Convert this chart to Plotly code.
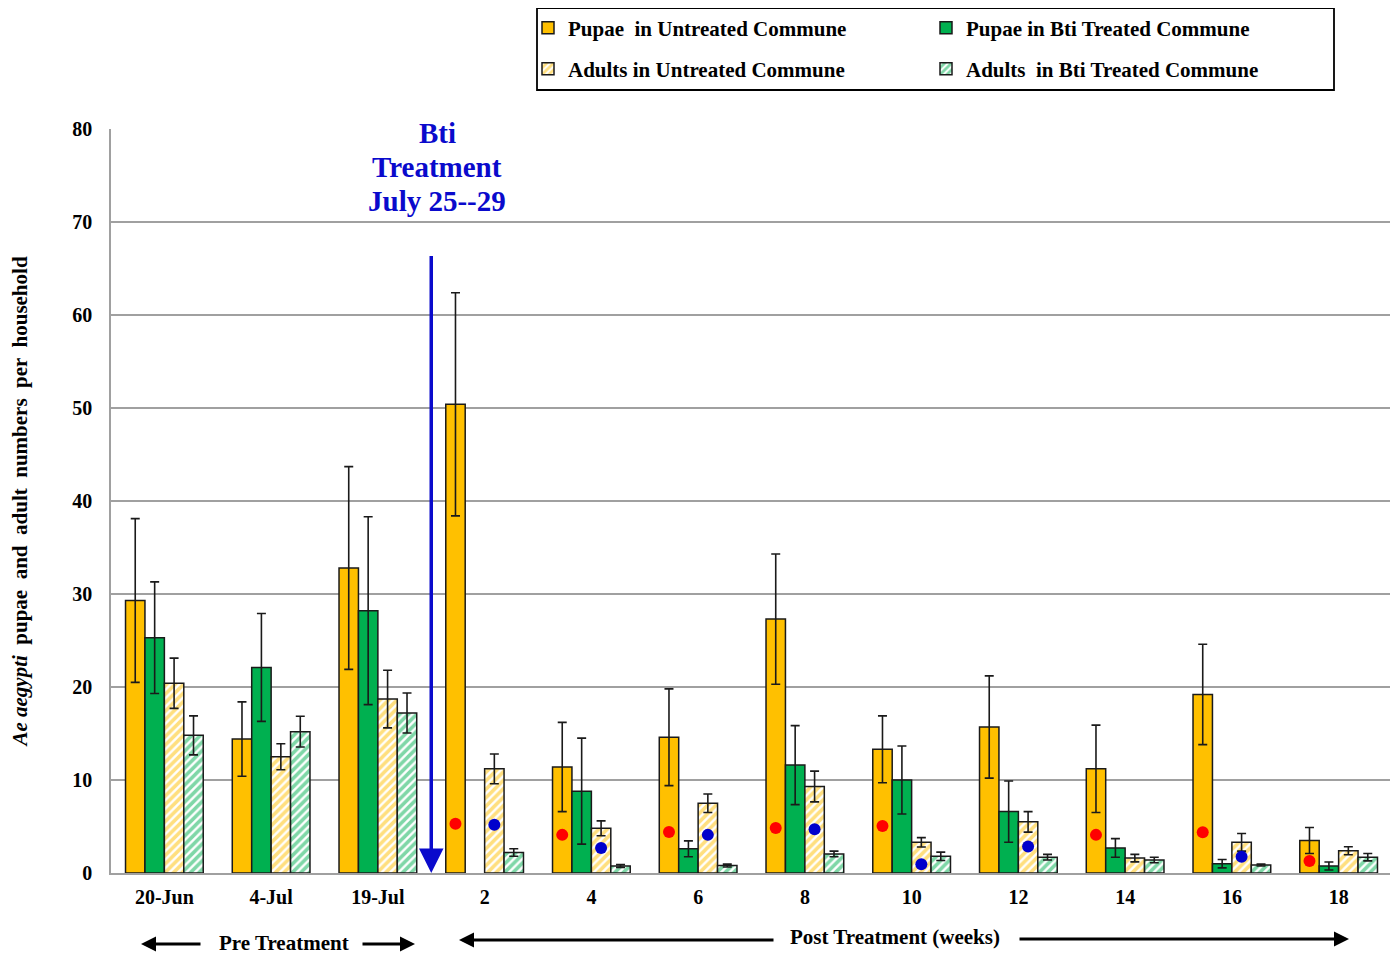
import plotly.graph_objects as go

categories = ["20-Jun", "4-Jul", "19-Jul", "2", "4", "6", "8", "10", "12", "14", "16", "18"]

pupae_untreated = [29.3, 14.4, 32.8, 50.4, 11.4, 14.6, 27.3, 13.3, 15.7, 11.2, 19.2, 3.5]
pupae_untreated_err = [8.8, 4.0, 10.9, 12.0, 4.8, 5.2, 7.0, 3.6, 5.5, 4.7, 5.4, 1.4]
pupae_treated = [25.3, 22.1, 28.2, None, 8.8, 2.6, 11.6, 10.0, 6.6, 2.7, 1.0, 0.75]
pupae_treated_err = [6.0, 5.8, 10.1, 0, 5.7, 0.85, 4.25, 3.65, 3.3, 1.0, 0.45, 0.43]
adults_untreated = [20.4, 12.5, 18.7, 11.2, 4.8, 7.5, 9.3, 3.3, 5.5, 1.6, 3.3, 2.4]
adults_untreated_err = [2.7, 1.4, 3.1, 1.6, 0.8, 1.0, 1.65, 0.5, 1.1, 0.4, 0.95, 0.43]
adults_treated = [14.8, 15.2, 17.2, 2.2, 0.75, 0.8, 2.05, 1.8, 1.7, 1.4, 0.85, 1.7]
adults_treated_err = [2.1, 1.65, 2.15, 0.4, 0.15, 0.15, 0.3, 0.45, 0.3, 0.3, 0.1, 0.4]

red_dots = [None, None, None, 5.3, 4.1, 4.4, 4.85, 5.05, None, 4.1, 4.37, 1.3]
blue_dots = [None, None, None, 5.2, 2.7, 4.1, 4.7, 0.95, 2.85, None, 1.75, None]

YELLOW = "#FFC000"
GREEN = "#00B050"
BLUE = "#0A0ACC"
FONT = "Liberation Serif"
BARGAP = 0.272
barw = (1 - BARGAP) / 4

FIG_W, FIG_H = 1398, 956
OFF = 8  # page body margin
# plot area in window pixels
PLOT_TOP, PLOT_BOTTOM = 129, 873
PLOT_LEFT, PLOT_RIGHT = 111, 1392
PLOT_H = PLOT_BOTTOM - PLOT_TOP
PLOT_W = PLOT_RIGHT - PLOT_LEFT

def py(ypix):
    return (PLOT_BOTTOM - ypix) / PLOT_H

def px(xpix):
    return (xpix - PLOT_LEFT) / PLOT_W

def cy(ypix):
    return 1 - (ypix - OFF) / FIG_H

def cx(xpix):
    return (xpix - OFF) / FIG_W

xpos = list(range(len(categories)))

fig = go.Figure()

def err(arr):
    return dict(type="data", array=arr, visible=True, color="#1a1a1a", thickness=1.6, width=4.5)

line = dict(color="#1a1a1a", width=1.5)

fig.add_trace(go.Bar(x=xpos, y=pupae_untreated, error_y=err(pupae_untreated_err),
                     name="Pupae  in Untreated Commune", legend="legend",
                     marker=dict(color=YELLOW, line=line)))
fig.add_trace(go.Bar(x=xpos, y=pupae_treated, error_y=err(pupae_treated_err),
                     name="Pupae in Bti Treated Commune", legend="legend",
                     marker=dict(color=GREEN, line=line)))
fig.add_trace(go.Bar(x=xpos, y=adults_untreated, error_y=err(adults_untreated_err),
                     name="Adults in Untreated Commune", legend="legend2",
                     marker=dict(color="white", line=line,
                                 pattern=dict(shape="/", fgcolor=YELLOW, bgcolor="white",
                                              size=6, solidity=0.6, fillmode="overlay"))))
fig.add_trace(go.Bar(x=xpos, y=adults_treated, error_y=err(adults_treated_err),
                     name="Adults  in Bti Treated Commune", legend="legend2",
                     marker=dict(color="white", line=line,
                                 pattern=dict(shape="/", fgcolor=GREEN, bgcolor="white",
                                              size=6, solidity=0.6, fillmode="overlay"))))

fig.add_trace(go.Scatter(x=[i - 1.5 * barw for i in xpos], y=red_dots, mode="markers",
                         marker=dict(color="#FF0000", size=12), showlegend=False))
fig.add_trace(go.Scatter(x=[i + 0.5 * barw for i in xpos], y=blue_dots, mode="markers",
                         marker=dict(color="#0000CC", size=12), showlegend=False))

tickfont = dict(family=FONT, size=20, color="black", weight="bold")
labelfont = dict(family=FONT, size=21, color="black", weight="bold")
legfont = dict(family=FONT, size=21, color="black", weight="bold")

leg_common = dict(orientation="h", xanchor="left", yanchor="middle",
                  xref="container", yref="container", x=cx(528),
                  borderwidth=0, bgcolor="rgba(0,0,0,0)", font=legfont,
                  entrywidth=353, itemwidth=30)

fig.update_layout(
    width=FIG_W, height=FIG_H,
    margin=dict(l=PLOT_LEFT - OFF, r=FIG_W - (PLOT_RIGHT - OFF), t=PLOT_TOP - OFF,
                b=FIG_H - (PLOT_BOTTOM - OFF)),
    paper_bgcolor="white", plot_bgcolor="white",
    barmode="group", bargap=BARGAP, bargroupgap=0,
    font=dict(family=FONT, color="black"),
    legend=dict(y=cy(28), **leg_common),
    legend2=dict(y=cy(69), **leg_common),
    xaxis=dict(tickmode="array", tickvals=xpos, ticktext=categories,
               range=[-0.5, len(categories) - 0.5], showgrid=False,
               showline=True, linecolor="#a0a0a0", linewidth=1.5,
               ticks="", tickfont=tickfont, ticklabelstandoff=5, zeroline=False),
    yaxis=dict(range=[0, 80], dtick=10, showgrid=True, gridcolor="#a0a0a0", gridwidth=1.5,
               showline=True, linecolor="#a0a0a0", linewidth=1.5, zeroline=False,
               ticks="", tickfont=tickfont, ticklabelstandoff=13,
               title=dict(text="<i>Ae aegypti</i>&nbsp; pupae &nbsp;and &nbsp;adult &nbsp;numbers &nbsp;per &nbsp;household",
                          font=dict(family=FONT, size=21, color="black", weight="bold"),
                          standoff=39)),
)

# legend frame
fig.add_shape(type="rect", xref="paper", yref="paper", x0=px(537), x1=px(1334), y0=py(90), y1=py(8),
              line=dict(color="black", width=1.8), fillcolor="rgba(0,0,0,0)", layer="above")

# Bti treatment arrow and label
fig.add_annotation(x=2.5, y=0, ax=2.5, ay=66.5, xref="x", yref="y", axref="x", ayref="y",
                   text="", showarrow=True, arrowhead=2, arrowsize=1.4, arrowwidth=3.5,
                   arrowcolor=BLUE)
for txt, ypix in [("Bti", 133), ("Treatment", 167), ("July 25--29", 201)]:
    fig.add_annotation(x=px(437), y=py(ypix), xref="paper", yref="paper", text=txt,
                       showarrow=False, font=dict(family=FONT, size=29, color=BLUE, weight="bold"),
                       align="center", xanchor="center", yanchor="middle")

# Bottom period arrows and labels
def harrow_px(head, tail, ypix):
    fig.add_annotation(x=px(head), y=py(ypix), ax=tail - head, ay=0,
                       xref="paper", yref="paper", axref="pixel", ayref="pixel",
                       text="", showarrow=True, arrowhead=2, arrowsize=1.0, arrowwidth=3,
                       arrowcolor="black")

harrow_px(141, 202, 944)
harrow_px(415, 361, 944)
harrow_px(459, 775, 940)
harrow_px(1349, 1018, 939)

fig.add_annotation(x=px(284), y=py(943), xref="paper", yref="paper", text="Pre Treatment",
                   showarrow=False, font=labelfont, xanchor="center", yanchor="middle")
fig.add_annotation(x=px(895), y=py(937), xref="paper", yref="paper", text="Post Treatment (weeks)",
                   showarrow=False, font=labelfont, xanchor="center", yanchor="middle")

fig.write_html("out.html")
